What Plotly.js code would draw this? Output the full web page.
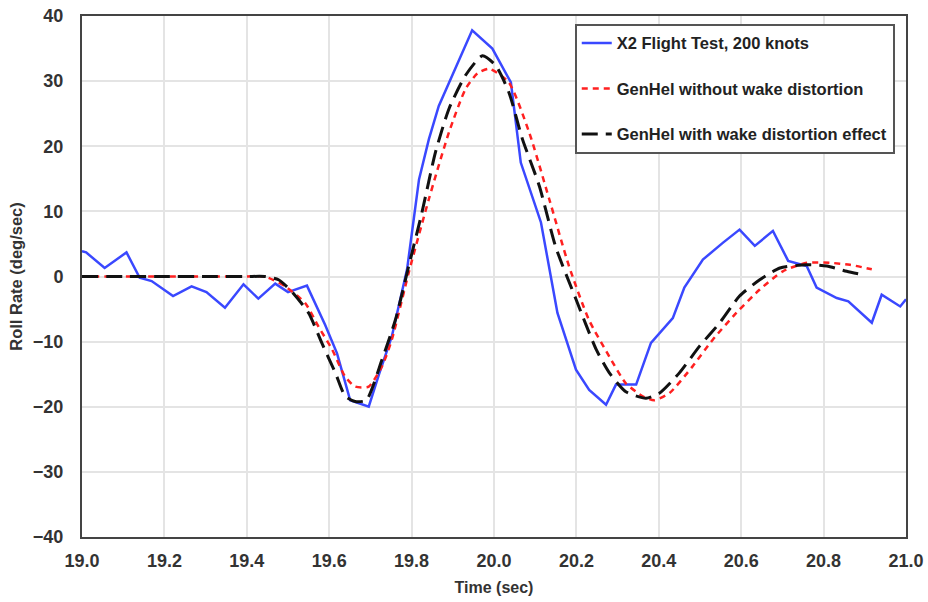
<!DOCTYPE html>
<html><head><meta charset="utf-8">
<script src="https://cdn.plot.ly/plotly-3.0.1.min.js"></script>
<style>body{margin:0;background:#fff}#c{width:928px;height:602px}</style>
</head><body><div id="c"></div>
<script>
const flightT = [19.0,19.01,19.055,19.108,19.14,19.169,19.221,19.266,19.302,19.347,19.392,19.428,19.469,19.50,19.546,19.590,19.619,19.651,19.696,19.722,19.752,19.789,19.818,19.842,19.866,19.899,19.947,19.996,20.041,20.065,20.114,20.154,20.199,20.231,20.272,20.296,20.345,20.381,20.434,20.462,20.507,20.556,20.596,20.633,20.677,20.714,20.759,20.783,20.832,20.860,20.917,20.941,20.986,21.0];
const flightP = [3.9,3.7,1.3,3.7,-0.2,-0.7,-3.0,-1.5,-2.4,-4.8,-1.2,-3.4,-1.1,-2.4,-1.4,-7.4,-11.8,-19.0,-20.0,-14.8,-9.2,1.1,14.9,21.1,26.2,30.9,37.8,35.0,29.8,17.5,8.3,-5.6,-14.3,-17.4,-19.7,-16.6,-16.6,-10.2,-6.4,-1.7,2.6,5.2,7.2,4.7,7.0,2.4,1.6,-1.7,-3.3,-3.8,-7.1,-2.8,-4.6,-3.5];

const noWakeT = [19.0,19.1,19.2,19.3,19.4,19.444,19.493,19.542,19.574,19.607,19.639,19.663,19.696,19.728,19.752,19.793,19.842,19.891,19.931,19.960,19.988,20.036,20.085,20.134,20.182,20.23,20.28,20.32,20.361,20.389,20.426,20.482,20.531,20.588,20.645,20.701,20.759,20.815,20.864,20.917];
const noWakeP = [0,0,0,0,0,0,-1.5,-4.1,-7.7,-11.2,-15.4,-16.9,-16.9,-13.8,-9.7,0.6,11.9,22.2,28.8,31.2,31.9,29.8,22.2,11.9,1.6,-6.6,-12.3,-16.4,-18.4,-19.0,-17.9,-13.8,-9.7,-5.6,-2.0,0.8,2.1,2.1,1.8,1.1];

const wakeT = [19.0,19.1,19.2,19.3,19.4,19.444,19.477,19.509,19.55,19.582,19.615,19.639,19.663,19.690,19.728,19.761,19.793,19.825,19.858,19.891,19.931,19.972,20.004,20.036,20.069,20.11,20.15,20.199,20.248,20.28,20.32,20.369,20.402,20.45,20.499,20.548,20.596,20.645,20.694,20.759,20.808,20.856,20.893];
const wakeP = [0,0,0,0,0,0,-0.5,-2.3,-5.6,-10.2,-14.8,-18.4,-19.2,-19.0,-12.8,-6.6,1.6,9.8,19.1,25.8,30.9,33.9,32.4,28.3,21.1,13.9,4.5,-3.5,-11.2,-14.8,-17.7,-18.7,-17.9,-14.8,-10.7,-7.1,-3.0,-0.5,1.3,1.8,1.6,0.8,0.3];

const names = ["X2 Flight Test, 200 knots","GenHel without wake distortion","GenHel with wake distortion effect"];
const xTicks = [19.0,19.2,19.4,19.6,19.8,20.0,20.2,20.4,20.6,20.8,21.0];
const yTicks = [-40,-30,-20,-10,0,10,20,30,40];

const fnt = "'Liberation Sans', Arial, sans-serif";

const traces = [
  {x: flightT, y: flightP, name: names[0], mode: 'lines', legendgroup: 'a',
   line: {color: '#3a48ff', width: 2.5}},
  {x: noWakeT, y: noWakeP, name: names[1], mode: 'lines', legendgroup: 'b', line: {shape: 'spline', smoothing: 0.6,
   color: '#ff2020', width: 2.5, dash: '6px,5px'}},
  {x: wakeT, y: wakeP, name: names[2], mode: 'lines', legendgroup: 'c', line: {shape: 'spline', smoothing: 0.6,
   color: '#111111', width: 3, dash: '16px,8px'}}
];

const layout = {
  width: 928, height: 602,
  margin: {l: 82, r: 22, t: 16, b: 65},
  paper_bgcolor: '#fff', plot_bgcolor: '#fff',
  font: {family: fnt, size: 16, color: '#333', weight: 700},
  showlegend: true,
  legend: {x: 0.598, y: 0.985, xanchor: 'left', yanchor: 'top',
    bordercolor: '#555', borderwidth: 2, bgcolor: '#fff',
    tracegroupgap: 21, traceorder: 'grouped', itemwidth: 30,
    font: {family: fnt, size: 16.5, color: '#222', weight: 700}},
  xaxis: {range: [19.0, 21.0], tickvals: xTicks, ticktext: xTicks.map(v => v.toFixed(1)),
    showgrid: true, gridcolor: '#e4e4e4', gridwidth: 2, zeroline: false,
    showline: true, mirror: true, linecolor: '#444', linewidth: 2, ticks: '',
    ticklabelstandoff: 6,
    tickfont: {family: fnt, size: 18, color: '#333', weight: 700},
    title: {text: 'Time (sec)', font: {family: fnt, size: 16, color: '#333', weight: 700}, standoff: 12}},
  yaxis: {range: [-40, 40], tickvals: yTicks,
    showgrid: true, gridcolor: '#e4e4e4', gridwidth: 2, zeroline: false,
    showline: true, mirror: true, linecolor: '#444', linewidth: 2, ticks: '',
    ticklabelstandoff: 13,
    tickfont: {family: fnt, size: 18, color: '#333', weight: 700},
    title: {text: 'Roll Rate (deg/sec)', font: {family: fnt, size: 16.5, color: '#333', weight: 700}, standoff: 6}}
};

Plotly.newPlot('c', traces, layout, {displayModeBar: false, staticPlot: true});
</script></body></html>
